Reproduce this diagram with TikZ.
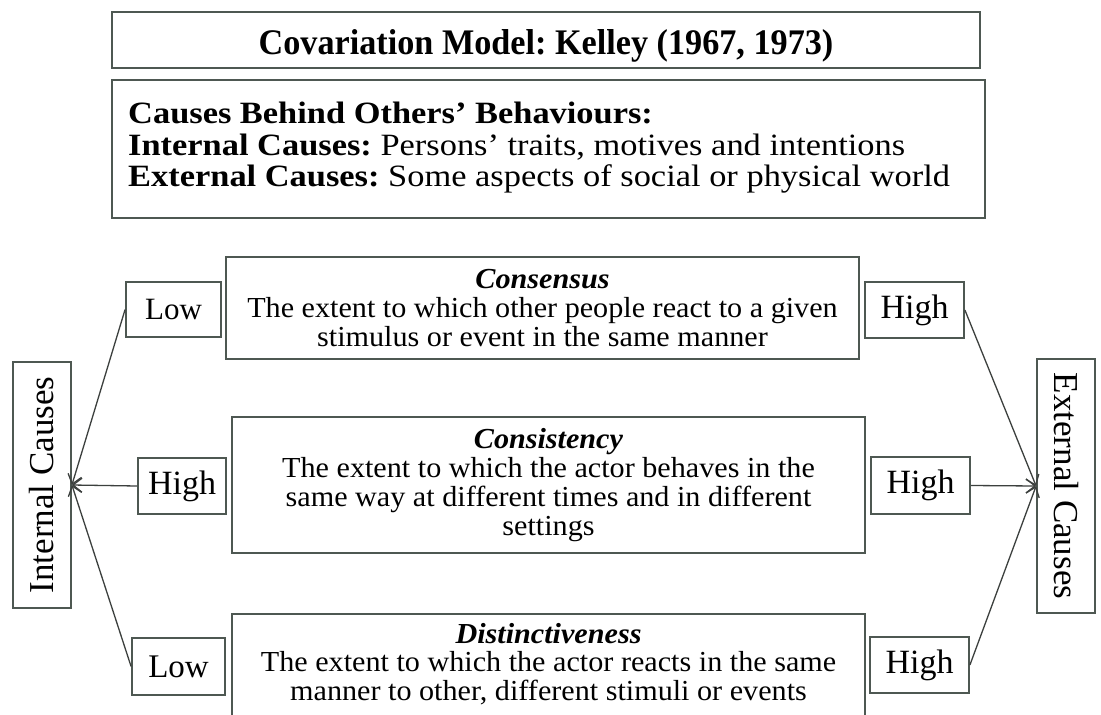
\documentclass[tikz,border=0pt]{standalone}
\usepackage{fontspec}
\setmainfont{Liberation Serif}
\newfontfamily\titlefont{Liberation Serif}[FakeStretch=0.95,Ligatures=TeX]
\newfontfamily\infofont{Liberation Serif}[FakeStretch=1.11,Ligatures=TeX]
\newfontfamily\bodyfont{Liberation Serif}[FakeStretch=1.04,Ligatures=TeX]
\usetikzlibrary{arrows.meta}
\frenchspacing

\definecolor{edge}{RGB}{78,88,82}
\definecolor{wire}{RGB}{60,64,62}

\tikzset{
  box/.style={draw=edge, line width=1.8pt, fill=white, inner sep=0pt, align=center},
  tag/.style={box, font=\fontsize{34}{36}\selectfont},
  side/.style={box, font=\fontsize{35}{37}\selectfont, rotate=90},
  body/.style={align=center, inner sep=0pt, font=\bodyfont\fontsize{29}{28.8}\selectfont},
  link/.style={draw=wire, line width=1.3pt, -{Straight Barb[length=9pt,width=14pt]}},
}

\begin{document}
\begin{tikzpicture}[x=1pt,y=-1pt]
\clip (0,0) rectangle (1101,715);
\fill[white] (0,0) rectangle (1101,715);

% heading and definitions
\node[box, minimum width=868pt, minimum height=56pt, text height=28pt, text depth=0pt,
      font=\titlefont\fontsize{36}{38}\selectfont\bfseries]
  (title) at (546,40) {Covariation Model: Kelley (1967, 1973)};
\node[box, minimum width=873pt, minimum height=138pt] (info) at (548.5,149) {};
\node[anchor=west, align=left, inner sep=0pt, font=\infofont\fontsize{31}{31.5}\selectfont]
  (infoT) at (128,148) {\textbf{Causes Behind Others’ Behaviours:}\\
  \textbf{Internal Causes:} Persons’ traits, motives and intentions\\
  \textbf{External Causes:} Some aspects of social or physical world};

% the three criteria
\node[box, minimum width=633pt, minimum height=102pt] (cons) at (542.5,308) {};
\node[body] (consT) at (542.5,308) {\textbf{\textit{Consensus}}\\
  The extent to which other people react to a given\\
  stimulus or event in the same manner};

\node[box, minimum width=633pt, minimum height=136pt] (cnst) at (548.5,485) {};
\node[body] (cnstT) at (548.5,485) {\textbf{\textit{Consistency}}\\
  The extent to which the actor behaves in the\\
  same way at different times and in different\\
  settings};

\node[box, minimum width=633pt, minimum height=140pt] (dist) at (548.5,684) {};
\node[body] (distT) at (548.5,664) {\textbf{\textit{Distinctiveness}}\\
  The extent to which the actor reacts in the same\\
  manner to other, different stimuli or events};

% low / high labels
\node[tag, minimum width=95pt, minimum height=55pt, font=\fontsize{31}{33}\selectfont] (lowA) at (173.5,309.5) {Low};
\node[tag, minimum width=88pt, minimum height=56pt] (highB) at (182,486) {High};
\node[tag, minimum width=93pt, minimum height=57pt, font=\fontsize{33}{35}\selectfont] (lowC) at (178.5,666.5) {Low};
\node[tag, minimum width=99pt, minimum height=56pt] (highA) at (914.5,310) {High};
\node[tag, minimum width=99pt, minimum height=57pt] (highM) at (920.5,485.5) {High};
\node[tag, minimum width=99pt, minimum height=56pt] (highC) at (919.5,665) {High};

% attribution outcomes
\node[side, minimum width=246pt, minimum height=58pt] (intc) at (42,485) {Internal Causes};
\node[side, minimum width=254pt, minimum height=58pt, rotate=180] (extc) at (1066,486) {External Causes};

\coordinate (inP) at (intc.south);
\coordinate (exP) at (extc.south);

\draw[link] (lowA.west) -- (inP);
\draw[link] (highB.west) -- (inP);
\draw[link] (lowC.west) -- (inP);
\draw[link] (highA.east) -- (exP);
\draw[link] (highM.east) -- (exP);
\draw[link] (highC.east) -- (exP);
\end{tikzpicture}
\end{document}
